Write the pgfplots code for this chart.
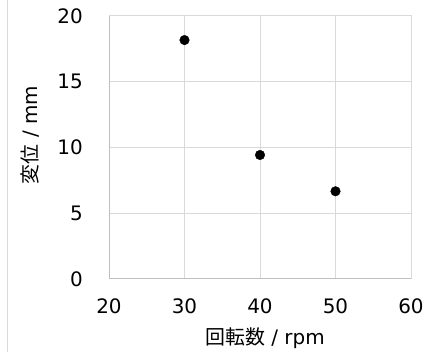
\documentclass[border=0pt]{standalone}
\usepackage{fontspec}
\setmainfont{DejaVu Sans}
\newfontfamily\jp{Noto Sans CJK JP}
\usepackage{pgfplots}
\pgfplotsset{compat=1.18}
\definecolor{gridc}{HTML}{D9D9D9}
\definecolor{axc}{HTML}{BFBFBF}
\begin{document}
\begin{tikzpicture}
\useasboundingbox (0,0) rectangle (424bp,352bp);
\fill[white] (0,0) rectangle (424bp,352bp);
\draw[gridc, line width=1bp] (7.3bp,0) -- (7.3bp,352bp);
\begin{axis}[
  scale only axis,
  width=302bp, height=263bp,
  at={(109bp,73bp)}, anchor=south west,
  xmin=20, xmax=60, ymin=0, ymax=20,
  xtick={20,30,40,50,60}, ytick={0,5,10,15,20},
  grid=major,
  grid style={gridc, line width=1bp},
  axis line style={gridc, line width=1bp},
  major tick length=0pt,
  tick style={draw=none},
  font=\fontsize{20}{24}\selectfont,
  /pgf/number format/assume math mode=true,
  yticklabel style={anchor=east, inner sep=0pt, xshift=-26bp},
  xticklabel style={anchor=north, inner sep=0pt, yshift=-20bp},
  clip=false,
]
\addplot[only marks, mark=*, mark size=4.8bp, black] coordinates {
  (30,18.17) (40,9.43) (50,6.67)
};
\end{axis}
\draw[axc, line width=1bp] (109bp,73bp+263bp) -- (109bp,73bp) -- (411bp,73bp);
\node[font=\fontsize{20}{24}\selectfont, inner sep=0pt] at (265bp,14bp) {{\jp 回転数} / rpm};
\node[font=\fontsize{20}{24}\selectfont, inner sep=0pt, rotate=90] at (30bp,217bp) {{\jp 変位} / mm};
\end{tikzpicture}
\end{document}
